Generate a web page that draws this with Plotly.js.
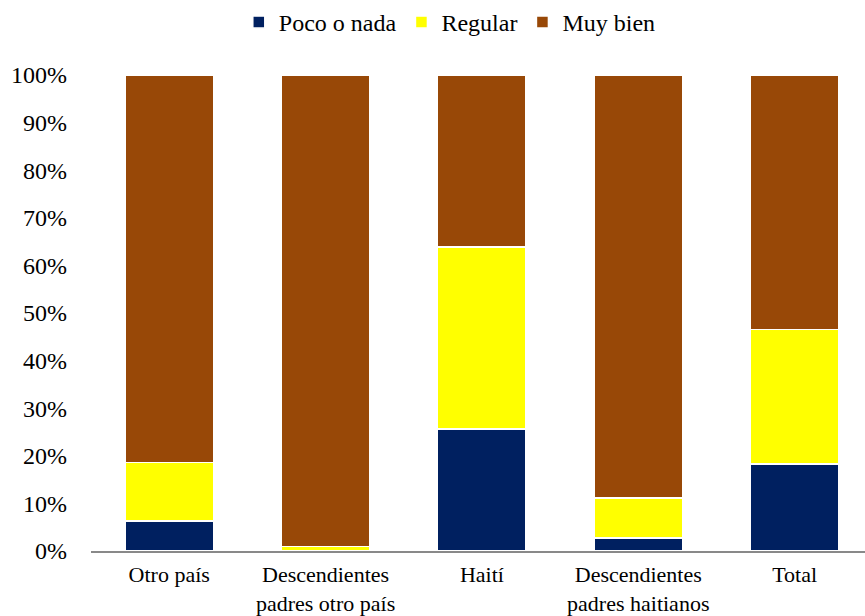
<!DOCTYPE html>
<html>
<head>
<meta charset="utf-8">
<script src="https://cdn.plot.ly/plotly-3.0.1.min.js"></script>
<style>html,body{margin:0;padding:0;background:#fff;overflow:hidden;}#chart{width:865px;height:616px;}</style>
</head>
<body>
<div id="chart"></div>
<script>
const categories = ["Otro país", "Descendientes<br>padres otro país", "Haití", "Descendientes<br>padres haitianos", "Total"];
const pocoONada = [6.3, 0.0, 25.6, 2.7, 18.3];
const regular = [12.3, 0.9, 38.3, 8.4, 28.2];
const muyBien = [81.4, 99.1, 36.1, 88.9, 53.5];
const seriesNames = ["Poco o nada", "Regular", "Muy bien"];
const colors = ["#002060", "#FFFF00", "#984807"];
const font = "Times New Roman";

const data = [pocoONada, regular, muyBien].map((vals, i) => ({
  type: 'bar',
  name: seriesNames[i],
  x: [0, 1, 2, 3, 4],
  y: vals,
  marker: {color: colors[i], line: {color: '#ffffff', width: 1.5}},
  width: 0.565,
  hoverinfo: 'skip'
}));

const layout = {
  width: 865, height: 616,
  barmode: 'stack',
  margin: {l: 91, r: 0, t: 75, b: 65},
  paper_bgcolor: '#fff', plot_bgcolor: '#fff',
  font: {family: font, size: 20, color: '#000'},
  showlegend: true,
  legend: {orientation: 'h', xref: 'container', x: 0.52, xanchor: 'center', yref: 'container', y: 1.0, yanchor: 'top',
           font: {family: font, size: 24, color: '#000'}, traceorder: 'normal'},
  xaxis: {range: [-0.5, 4.45], tickmode: 'array', tickvals: [0, 1, 2, 3, 4], ticktext: categories,
          showline: true, linecolor: '#898989', linewidth: 1.5, ticks: '', showgrid: false, zeroline: false,
          ticklabelstandoff: 3, tickfont: {family: font, size: 22, color: '#000'}, fixedrange: true},
  yaxis: {range: [0, 100], dtick: 10, ticksuffix: '%', showgrid: false, zeroline: false, showline: false,
          ticklabelstandoff: 23, tickfont: {family: font, size: 24, color: '#000'}, fixedrange: true}
};

Plotly.newPlot('chart', data, layout, {displayModeBar: false, staticPlot: true});
</script>
</body>
</html>
